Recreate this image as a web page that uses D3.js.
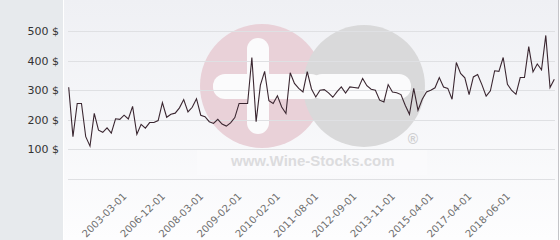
<!DOCTYPE html>
<html><head><meta charset="utf-8">
<script src="https://cdn.jsdelivr.net/npm/d3@7"></script>
<style>html,body{margin:0;padding:0;background:#fff;}svg{display:block;}</style>
</head><body>
<script>
const values = [310,142,255,255,142,110,221,164,157,172,154,203,201,215,202,245,150,184,171,190,
190,197,258,208,218,222,240,268,226,242,271,215,210,193,187,201,185,178,189,207,
255,255,255,411,193,317,364,264,255,281,243,221,359,323,306,294,363,304,277,300,
302,291,276,295,311,290,311,309,307,340,315,303,300,266,260,319,294,291,285,249,
218,306,232,269,294,300,308,343,311,306,269,394,357,342,285,345,353,319,280,298,
366,364,411,320,299,286,343,343,448,362,389,369,486,309,337];
const tickLabels = ["2003-03-01","2006-12-01","2008-03-01","2009-02-01","2010-02-01","2011-08-01","2012-09-01","2013-11-01","2015-04-01","2017-04-01","2018-06-01"];
const tickIndex = [14,23,32,41,50,59,68,77,86,95,104];
const yTicks = [0,100,200,300,400,500];

const W=560,H=240;
const svg=d3.select("body").append("svg").attr("width",W).attr("height",H);
const defs=svg.append("defs");
const g=defs.append("linearGradient").attr("id","bg").attr("x1",0).attr("y1",0).attr("x2",0).attr("y2",1);
g.append("stop").attr("offset","0%").attr("stop-color","#eff0f4");
g.append("stop").attr("offset","100%").attr("stop-color","#fdfdfe");

svg.append("rect").attr("x",0).attr("y",0).attr("width",W).attr("height",H).attr("fill","#ffffff");
svg.append("rect").attr("x",0).attr("y",0).attr("width",63).attr("height",H).attr("fill","#e7eaed");
svg.append("rect").attr("x",64).attr("y",0).attr("width",494).attr("height",H).attr("fill","url(#bg)");
svg.append("line").attr("x1",558.5).attr("x2",558.5).attr("y1",0).attr("y2",H).attr("stroke","#c4c4c8").attr("stroke-width",1);

const x=d3.scaleLinear().domain([0,values.length-1]).range([68.7,554.3]);
const y=d3.scaleLinear().domain([0,500]).range([178.5,31.3]);

// watermark
const wm=svg.append("g");
wm.append("circle").attr("cx",262).attr("cy",86).attr("r",62).attr("fill","#e9d1d8");
wm.append("circle").attr("cx",364).attr("cy",86).attr("r",61).attr("fill","#d9d9da");
wm.append("rect").attr("x",247).attr("y",38).attr("width",22).attr("height",96).attr("rx",11).attr("fill","#fbfbfc");
wm.append("rect").attr("x",213).attr("y",74).attr("width",110).attr("height",25).attr("rx",12).attr("fill","#fbfbfc");
wm.append("rect").attr("x",310).attr("y",74).attr("width",101).attr("height",25).attr("rx",12).attr("fill","#fbfbfc");
wm.append("rect").attr("x",197).attr("y",149).attr("width",230).attr("height",26).attr("fill","#ffffff").attr("opacity",0.25);
wm.append("text").attr("x",231).attr("y",166).attr("font-family","Liberation Sans, Arial, sans-serif")
  .attr("font-weight","bold").attr("font-size",15).attr("fill","#dcdcde").text("www.Wine-Stocks.com");
wm.append("text").attr("x",413).attr("y",144).attr("text-anchor","middle").attr("font-family","Liberation Sans, Arial, sans-serif")
  .attr("font-weight","bold").attr("font-size",14).attr("fill","#cfcfd1").text("®");

// gridlines
svg.append("g").selectAll("line").data(yTicks).join("line")
  .attr("x1",68).attr("x2",555)
  .attr("y1",d=>Math.round(y(d))+0.5).attr("y2",d=>Math.round(y(d))+0.5)
  .attr("stroke","#dfe0e3").attr("stroke-width",1);

// y labels
svg.append("g").selectAll("text").data(yTicks.filter(d=>d>0)).join("text")
  .attr("x",59).attr("y",d=>Math.round(y(d))+0.5).attr("dy","0.35em")
  .attr("text-anchor","end").attr("font-family","DejaVu Sans, Verdana, sans-serif")
  .attr("font-size",11).attr("fill","#333").text(d=>d+" $");

// x labels
svg.append("g").selectAll("text").data(tickIndex).join("text")
  .attr("transform",d=>`translate(${x(d)-1},197) rotate(-45)`)
  .attr("text-anchor","end").attr("font-family","DejaVu Sans, Verdana, sans-serif")
  .attr("font-size",10).attr("fill","#6e6e6e").text((d,i)=>tickLabels[i]);

// line
const line=d3.line().x((d,i)=>x(i)).y(d=>y(d));
svg.append("path").datum(values).attr("d",line).attr("fill","none")
  .attr("stroke","#3a2630").attr("stroke-width",1.1).attr("stroke-linejoin","miter");
</script>
</body></html>
